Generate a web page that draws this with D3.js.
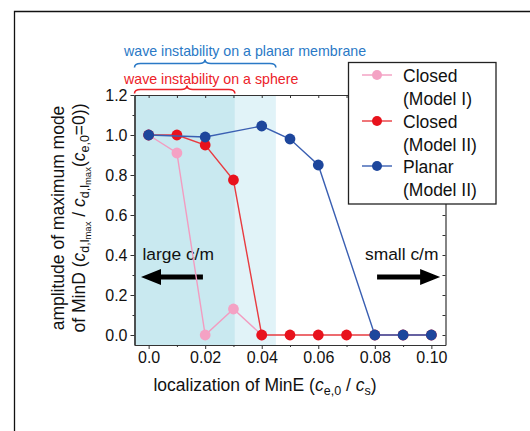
<!DOCTYPE html>
<html>
<head>
<meta charset="utf-8">
<script src="https://cdn.jsdelivr.net/npm/d3@7"></script>
<style>
  html, body { margin: 0; padding: 0; background: #fff; }
  svg { display: block; font-family: Arial, "Liberation Sans", sans-serif; }
</style>
</head>
<body>
<svg id="chart" width="530" height="431"></svg>
<script>
// MinE localization sweep: amplitude of the maximum MinD mode
const xTicksMajor = [0, 0.02, 0.04, 0.06, 0.08, 0.10];
const xTicksAll = [0, 0.01, 0.02, 0.03, 0.04, 0.05, 0.06, 0.07, 0.08, 0.09, 0.10];
const yTicksMajor = [0, 0.2, 0.4, 0.6, 0.8, 1.0, 1.2];
const yTicksMinor = [0.1, 0.3, 0.5, 0.7, 0.9, 1.1];

const closedModelI_x = [0, 0.01, 0.02, 0.03, 0.04];
const closedModelI_y = [1.0, 0.91, 0.0, 0.13, 0.0];

const closedModelII_x = [0, 0.01, 0.02, 0.03, 0.04, 0.05, 0.06, 0.07, 0.08, 0.09, 0.10];
const closedModelII_y = [1.0, 1.0, 0.95, 0.775, 0, 0, 0, 0, 0, 0, 0];

const planarModelII_x = [0, 0.02, 0.04, 0.05, 0.06, 0.08, 0.09, 0.10];
const planarModelII_y = [1.0, 0.99, 1.045, 0.98, 0.85, 0, 0, 0];

const seriesNames = [["Closed", "(Model I)"], ["Closed", "(Model II)"], ["Planar", "(Model II)"]];

// instability ranges (in units of c_e,0 / c_s)
const sphereRange = [-0.005, 0.0305];
const planarRange = [-0.005, 0.045];

const svg = d3.select("#chart");

// outer figure frame
svg.append("path").attr("d", "M14.5,431V11.5H530")
  .attr("fill", "none").attr("stroke", "#111").attr("stroke-width", 1.3);

const x = d3.scaleLinear().domain([-0.005, 0.105]).range([134.5, 445.5]);
const y = d3.scaleLinear().domain([-0.05, 1.2]).range([345, 95]);

// shaded instability bands
svg.append("rect")
  .attr("x", x(sphereRange[1])).attr("y", y(1.2))
  .attr("width", x(planarRange[1]) - x(sphereRange[1])).attr("height", y(-0.05) - y(1.2))
  .attr("fill", "#e1f3f8");
svg.append("rect")
  .attr("x", x(sphereRange[0])).attr("y", y(1.2))
  .attr("width", x(sphereRange[1]) - x(sphereRange[0])).attr("height", y(-0.05) - y(1.2))
  .attr("fill", "#c9e9f0");

// axes
const axisColor = "#333";
const fmtX = d => d === 0 ? "0.0" : d3.format(".2f")(d);
const fmtY = d3.format(".1f");

const gB = svg.append("g").attr("transform", `translate(0,${y(-0.05)})`)
  .call(d3.axisBottom(x).tickValues(xTicksMajor).tickSize(4).tickSizeOuter(0).tickPadding(3).tickFormat(fmtX));
svg.append("g").attr("transform", `translate(0,${y(-0.05)})`)
  .call(d3.axisBottom(x).tickValues(xTicksAll.filter(v => !xTicksMajor.includes(v))).tickSize(2).tickSizeOuter(0).tickFormat(""));
svg.append("g").attr("transform", `translate(0,${y(1.2)})`)
  .call(d3.axisTop(x).tickValues(xTicksAll).tickSize(-3).tickSizeOuter(0).tickFormat(""));
const gL = svg.append("g").attr("transform", `translate(${x(-0.005)},0)`)
  .call(d3.axisLeft(y).tickValues(yTicksMajor).tickSize(4).tickSizeOuter(0).tickPadding(3).tickFormat(fmtY));
svg.append("g").attr("transform", `translate(${x(-0.005)},0)`)
  .call(d3.axisLeft(y).tickValues(yTicksMinor).tickSize(2).tickSizeOuter(0).tickFormat(""));
svg.append("g").attr("transform", `translate(${x(0.105)},0)`)
  .call(d3.axisRight(y).tickValues(yTicksMajor.concat(yTicksMinor)).tickSize(-3).tickSizeOuter(0).tickFormat(""));

svg.selectAll(".domain").attr("stroke", axisColor).attr("stroke-width", 1.2);
svg.selectAll(".tick line").attr("stroke", axisColor).attr("stroke-width", 1);
svg.selectAll(".tick text").attr("font-size", 16).attr("fill", "#111")
  .attr("font-family", "Arial, 'Liberation Sans', sans-serif");

// direction annotations
function arrow(x0, x1, yy) {
  const dir = Math.sign(x1 - x0), head = 20, hh = 8, sh = 2.6;
  const xb = x1 - dir * head;
  return `M${x0},${yy - sh}L${xb},${yy - sh}L${xb},${yy - hh}L${x1},${yy}L${xb},${yy + hh}L${xb},${yy + sh}L${x0},${yy + sh}Z`;
}
svg.append("path").attr("d", arrow(x(0.0192), x(-0.0027), y(0.29))).attr("fill", "#000");
svg.append("path").attr("d", arrow(x(0.0808), x(0.1031), y(0.29))).attr("fill", "#000");
svg.append("text").attr("x", x(-0.0022)).attr("y", y(0.375)).attr("font-size", 17.4).attr("fill", "#111").text("large c/m");
svg.append("text").attr("x", x(0.1025)).attr("y", y(0.375)).attr("text-anchor", "end").attr("font-size", 17.4).attr("fill", "#111").text("small c/m");

// series
const series = [
  { xs: closedModelI_x, ys: closedModelI_y, line: "#f29cc0", dot: "#f4a2c4" },
  { xs: closedModelII_x, ys: closedModelII_y, line: "#e83b40", dot: "#e8121c" },
  { xs: planarModelII_x, ys: planarModelII_y, line: "#3a5fb2", dot: "#1d469c" }
];
const line = d3.line().x(d => x(d[0])).y(d => y(d[1]));
series.forEach(s => {
  const pts = s.xs.map((v, i) => [v, s.ys[i]]);
  const g = svg.append("g");
  g.append("path").attr("d", line(pts)).attr("fill", "none").attr("stroke", s.line).attr("stroke-width", 1.4);
  g.selectAll("circle").data(pts).join("circle")
    .attr("cx", d => x(d[0])).attr("cy", d => y(d[1])).attr("r", 5.4).attr("fill", s.dot);
});

// braces marking instability ranges
function brace(x0, x1, yy, tipX) {
  const e = 4, c = 6;
  return `M${x0},${yy + e}Q${x0},${yy} ${x0 + c},${yy}L${tipX - c},${yy}Q${tipX},${yy} ${tipX},${yy - e}` +
         `Q${tipX},${yy} ${tipX + c},${yy}L${x1 - c},${yy}Q${x1},${yy} ${x1},${yy + e}`;
}
const blueText = "#2a79c6", redText = "#ec2229";
svg.append("path").attr("d", brace(x(planarRange[0]), x(planarRange[1]), 63.5, 205))
  .attr("fill", "none").attr("stroke", blueText).attr("stroke-width", 1.6);
svg.append("text").attr("x", 124).attr("y", 56).attr("font-size", 14.2).attr("fill", blueText)
  .text("wave instability on a planar membrane");
svg.append("path").attr("d", brace(x(sphereRange[0]), x(sphereRange[1]), 89.5, 187))
  .attr("fill", "none").attr("stroke", redText).attr("stroke-width", 1.6);
svg.append("text").attr("x", 124).attr("y", 84).attr("font-size", 14.2).attr("fill", redText)
  .text("wave instability on a sphere");

// axis titles
const xt = svg.append("text").attr("x", 265).attr("y", 391).attr("text-anchor", "middle")
  .attr("font-size", 17.5).attr("fill", "#111");
xt.append("tspan").text("localization of MinE (");
xt.append("tspan").attr("font-style", "italic").text("c");
xt.append("tspan").attr("font-size", 12.5).attr("dy", 4).text("e,0");
xt.append("tspan").attr("dy", -4).text(" / ");
xt.append("tspan").attr("font-style", "italic").text("c");
xt.append("tspan").attr("font-size", 12.5).attr("dy", 4).text("s");
xt.append("tspan").attr("dy", -4).text(")");

const yt = svg.append("g").attr("transform", "translate(64,218) rotate(-90)");
yt.append("text").attr("text-anchor", "middle").attr("font-size", 17.5).attr("fill", "#111")
  .text("amplitude of maximum mode");
const yt2 = yt.append("text").attr("y", 20.5).attr("text-anchor", "middle").attr("font-size", 17.5).attr("fill", "#111");
yt2.append("tspan").text("of MinD (");
yt2.append("tspan").attr("font-style", "italic").text("c");
yt2.append("tspan").attr("font-size", 12.5).attr("dy", 4).text("d,l");
yt2.append("tspan").attr("font-size", 9.5).attr("dy", 2).text("max");
yt2.append("tspan").attr("dy", -6).text(" / ");
yt2.append("tspan").attr("font-style", "italic").text("c");
yt2.append("tspan").attr("font-size", 12.5).attr("dy", 4).text("d,l");
yt2.append("tspan").attr("font-size", 9.5).attr("dy", 2).text("max");
yt2.append("tspan").attr("dy", -6).text("(");
yt2.append("tspan").attr("font-style", "italic").text("c");
yt2.append("tspan").attr("font-size", 12.5).attr("dy", 4).text("e,0");
yt2.append("tspan").attr("dy", -4).text("=0))");

// legend
const lg = svg.append("g");
lg.append("rect").attr("x", 348.5).attr("y", 62.5).attr("width", 147.5).attr("height", 141.5)
  .attr("fill", "#fff").attr("stroke", "#222").attr("stroke-width", 1.3);
const rowY = [82, 128, 173];
series.forEach((s, i) => {
  const cy = rowY[i] - 7;
  lg.append("line").attr("x1", 362).attr("x2", 392).attr("y1", cy).attr("y2", cy)
    .attr("stroke", s.line).attr("stroke-width", 1.4);
  lg.append("circle").attr("cx", 377).attr("cy", cy).attr("r", 5).attr("fill", s.dot);
  lg.append("text").attr("x", 403).attr("y", rowY[i]).attr("font-size", 17.5).attr("fill", "#111").text(seriesNames[i][0]);
  lg.append("text").attr("x", 403).attr("y", rowY[i] + 22.5).attr("font-size", 17.5).attr("fill", "#111").text(seriesNames[i][1]);
});
</script>
</body>
</html>
